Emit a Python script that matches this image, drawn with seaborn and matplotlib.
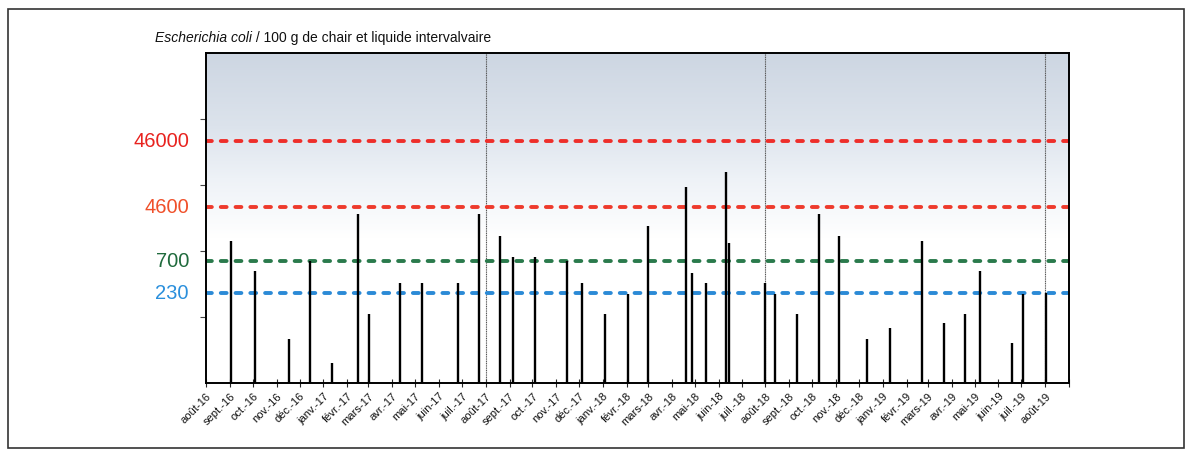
import numpy as np
import pandas as pd
import matplotlib
matplotlib.use("Agg")
import matplotlib.pyplot as plt
import matplotlib.dates as mdates
import matplotlib.ticker as mticker
import matplotlib.transforms as mtransforms
import seaborn as sns
from matplotlib.colors import LinearSegmentedColormap
from matplotlib.patches import Rectangle

# ---------------- data ----------------
sample_dates = [
    "2016-09-03", "2016-10-04", "2016-11-17", "2016-12-15", "2017-01-12",
    "2017-02-15", "2017-03-02", "2017-04-11", "2017-05-10", "2017-06-26",
    "2017-07-23", "2017-08-20", "2017-09-05", "2017-10-04", "2017-11-15",
    "2017-12-05", "2018-01-04", "2018-02-02", "2018-03-01", "2018-04-19",
    "2018-04-27", "2018-05-15", "2018-06-11", "2018-06-14", "2018-07-31",
    "2018-08-14", "2018-09-11", "2018-10-10", "2018-11-05", "2018-12-11",
    "2019-01-10", "2019-02-21", "2019-03-22", "2019-04-18", "2019-05-08",
    "2019-06-18", "2019-07-03", "2019-08-02",
]
ecoli_values = [
    1400, 500, 46, 700, 20,
    3600, 110, 330, 330, 330,
    3600, 1700, 800, 800, 700,
    330, 110, 220, 2400, 9200,
    460, 330, 16000, 1300, 330,
    220, 110, 3600, 1700, 46,
    68, 1400, 80, 110, 500,
    40, 220, 230,
]
threshold_values = [230, 700, 4600, 46000]
threshold_labels = ["230", "700", "4600", "46000"]
threshold_line_colors = ["#2b8ad6", "#2a7a4c", "#ee3a2c", "#ee2e2a"]
threshold_label_colors = ["#2a8fdc", "#1f6a3c", "#f0502a", "#e8231f"]
month_labels = [
    "août-16", "sept.-16", "oct.-16", "nov.-16", "déc.-16",
    "janv.-17", "févr.-17", "mars-17", "avr.-17", "mai-17", "juin-17", "juil.-17",
    "août-17", "sept.-17", "oct.-17", "nov.-17", "déc.-17",
    "janv.-18", "févr.-18", "mars-18", "avr.-18", "mai-18", "juin-18", "juil.-18",
    "août-18", "sept.-18", "oct.-18", "nov.-18", "déc.-18",
    "janv.-19", "févr.-19", "mars-19", "avr.-19", "mai-19", "juin-19", "juil.-19",
    "août-19",
]
year_separators = ["2017-08-01", "2018-08-01", "2019-08-01"]
x_start, x_end = "2016-08-01", "2019-09-01"

# ---------------- style ----------------
sns.set_theme(style="ticks")
plt.rcParams['font.family'] = ['Liberation Sans', 'DejaVu Sans']

W, H = 1192, 450
fig = plt.figure(figsize=(W / 100, H / 100), dpi=100)
fig.patch.set_facecolor("white")
pos = [206 / W, (H - 383) / H, (1069 - 206) / W, (383 - 53) / H]

# background gradient
bg = fig.add_axes(pos, zorder=0)
grad = np.linspace(0, 1, 256).reshape(-1, 1)
cmap = LinearSegmentedColormap.from_list(
    "bg", [(0, "white"), (0.44, "white"), (0.62, "#eef2f7"), (0.78, "#dce3ec"), (1, "#cdd6e2")])
bg.imshow(grad, cmap=cmap, aspect="auto", origin="lower", extent=[0, 1, 0, 1])
bg.set_axis_off()

ax = fig.add_axes(pos, zorder=1)
ax.set_facecolor("none")

df = pd.DataFrame({"date": pd.to_datetime(sample_dates), "value": ecoli_values})

ax.set_yscale("log")
ax.set_ylim(10, 1e6)
ax.set_xlim(pd.Timestamp(x_start), pd.Timestamp(x_end))

# year separators
for d in year_separators:
    ax.axvline(pd.Timestamp(d), color="#555555", lw=0.8, ls=(0, (1, 0.6)), zorder=1)

# thresholds
for v, lab, lc, tc in zip(threshold_values, threshold_labels,
                          threshold_line_colors, threshold_label_colors):
    ax.axhline(v, color=lc, lw=2.8, ls=(0, (1.5, 2.3)), dash_capstyle="round", zorder=2)
    ax.text(-0.0197, v, lab, transform=mtransforms.blended_transform_factory(ax.transAxes, ax.transData),
            ha="right", va="center", fontsize=14.5, color=tc)

# sample bars
ax.vlines(df["date"], 10, df["value"], color="black", lw=1.7, zorder=3)

# axes styling
for s in ax.spines.values():
    s.set_linewidth(1.4)
    s.set_color("black")
ax.yaxis.set_major_locator(mticker.FixedLocator([1e2, 1e3, 1e4, 1e5]))
ax.yaxis.set_minor_locator(mticker.NullLocator())
ax.yaxis.set_major_formatter(mticker.NullFormatter())
ax.tick_params(axis="y", length=4, width=0.8, color="#444444")

ticks = pd.date_range(x_start, "2019-08-01", freq="MS")
ax.set_xticks(ticks)
ax.set_xticklabels(month_labels, rotation=45, ha="right", va="top",
                   rotation_mode="anchor", fontsize=8, color="#111111")
ax.xaxis.set_minor_locator(mticker.FixedLocator([mdates.date2num(pd.Timestamp(x_end))]))
ax.tick_params(axis="x", which="both", direction="inout", length=6, width=0.8, pad=3)

# title
t1 = fig.text(155 / W, 1 - 45 / H, "Escherichia coli", style="italic", fontsize=10,
              va="bottom", ha="left", color="#111111")
ax.annotate(" / 100 g de chair et liquide intervalvaire", xy=(1, 0), xycoords=t1,
            va="bottom", ha="left", fontsize=10, annotation_clip=False, color="#111111")

# outer frame
fig.add_artist(Rectangle((8 / W, 2 / H), (1184 - 8) / W, (448 - 9) / H,
                         transform=fig.transFigure, fill=False, lw=1.2, edgecolor="#333333"))

fig.savefig("out.png", dpi=100)
